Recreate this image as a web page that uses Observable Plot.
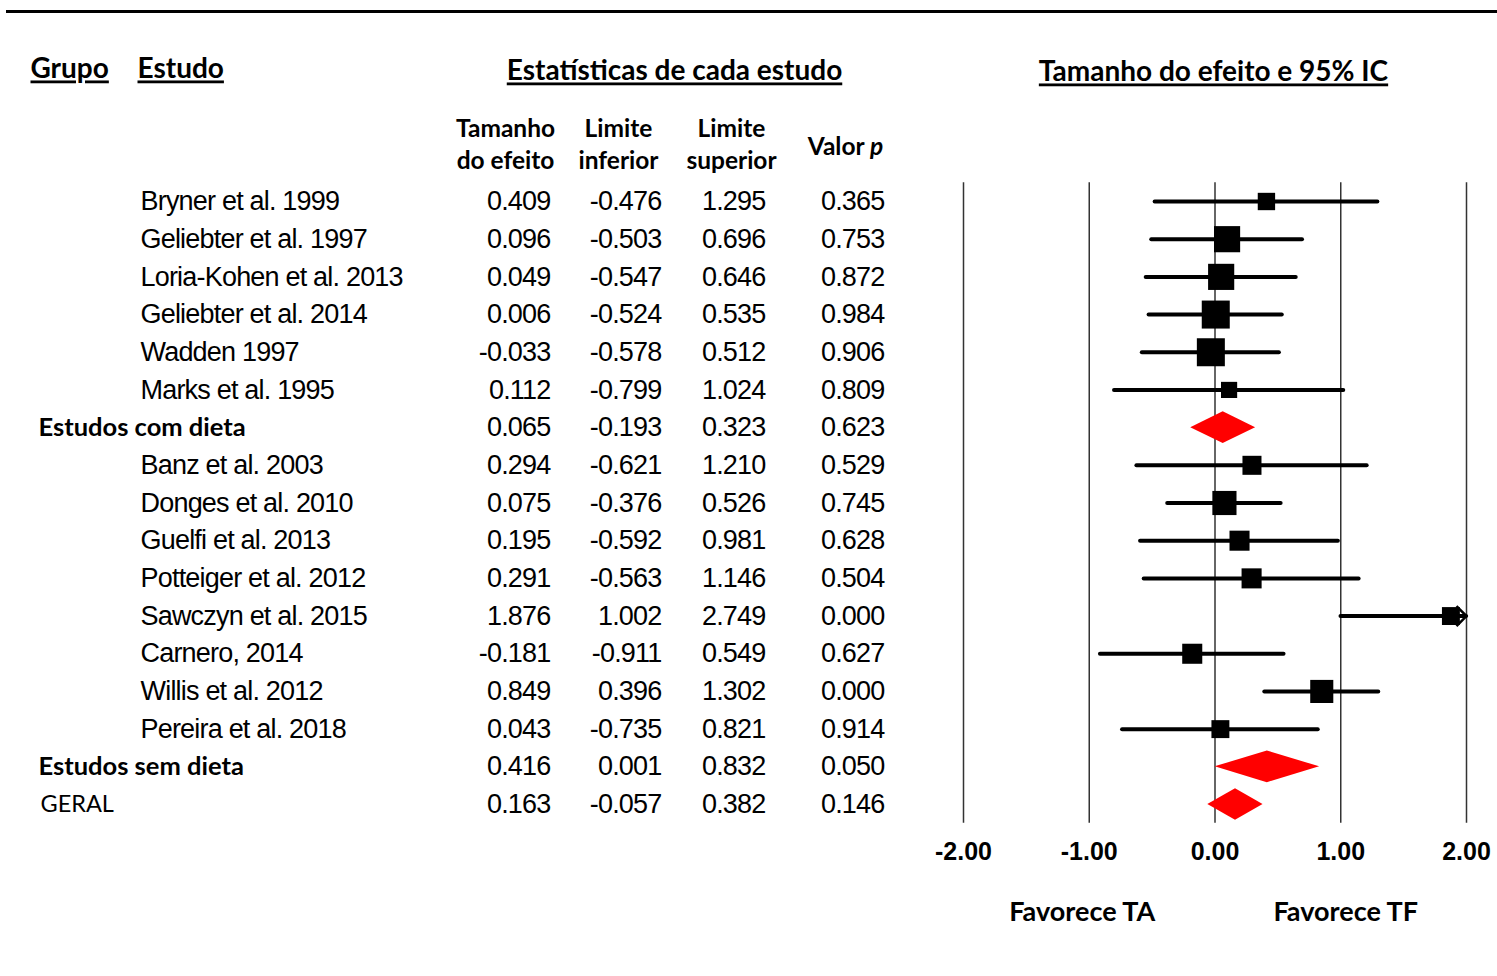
<!DOCTYPE html>
<html><head><meta charset="utf-8">
<script src="https://cdn.jsdelivr.net/npm/d3@7"></script>
<script src="https://cdn.jsdelivr.net/npm/@observablehq/plot@0.6"></script>
<style>
body{margin:0;background:#fff}
</style></head><body><div id="chart"></div>
<script>
// ---- data ----
const labels = ["Bryner et al. 1999","Geliebter et al. 1997","Loria-Kohen et al. 2013","Geliebter et al. 2014","Wadden 1997","Marks et al. 1995","Estudos com dieta","Banz et al. 2003","Donges et al. 2010","Guelfi et al. 2013","Potteiger et al. 2012","Sawczyn et al. 2015","Carnero, 2014","Willis et al. 2012","Pereira et al. 2018","Estudos sem dieta","GERAL"];
const kinds = ["study","study","study","study","study","study","group","study","study","study","study","study","study","study","study","group","overall"];
const effect = [0.409,0.096,0.049,0.006,-0.033,0.112,0.065,0.294,0.075,0.195,0.291,1.876,-0.181,0.849,0.043,0.416,0.163];
const lower  = [-0.476,-0.503,-0.547,-0.524,-0.578,-0.799,-0.193,-0.621,-0.376,-0.592,-0.563,1.002,-0.911,0.396,-0.735,0.001,-0.057];
const upper  = [1.295,0.696,0.646,0.535,0.512,1.024,0.323,1.210,0.526,0.981,1.146,2.749,0.549,1.302,0.821,0.832,0.382];
const pvalue = [0.365,0.753,0.872,0.984,0.906,0.809,0.623,0.529,0.745,0.628,0.504,0.000,0.627,0.000,0.914,0.050,0.146];
const weight = [3.0,6.8,6.8,7.8,7.8,2.6,null,3.6,5.8,4.0,4.0,3.2,4.0,5.3,3.2,null,null];
const ticks = [-2,-1,0,1,2];
const favorLabels = ["Favorece TA","Favorece TF"];
const favorSide = [-1,1];
const titles = ["Grupo","Estudo","Estatísticas de cada estudo","Tamanho do efeito e 95% IC"];
const colHeads = ["Tamanho\ndo efeito","Limite\ninferior","Limite\nsuperior","Valor p"];

// ---- derived tables ----
const rows = labels.map((label,i)=>({i,label,kind:kinds[i],es:effect[i],lo:lower[i],hi:upper[i],p:pvalue[i],w:weight[i]}));
const studies = rows.filter(d=>d.kind==="study");
const summaries = rows.filter(d=>d.kind!=="study");
const H = 0.42; // diamond half-height in row units
const diamond = summaries.flatMap(d=>[
  {i:d.i,x:d.lo,y1:d.i,y2:d.i},
  {i:d.i,x:d.es,y1:d.i-H,y2:d.i+H},
  {i:d.i,x:d.hi,y1:d.i,y2:d.i}]);
const clipped = studies.filter(d=>d.hi>2);
const chevron = {draw(ctx,size){const s=Math.sqrt(size)/2; ctx.moveTo(-s,-s); ctx.lineTo(0,0); ctx.lineTo(-s,s);}};

const SANS = "Lato, 'Open Sans', sans-serif";
const ARIAL = "'Liberation Sans', Arial, sans-serif";
const lab = (text, dx, dy, o) => Plot.text([text], {text:d=>d, frameAnchor:"top-left", dx, dy, lineAnchor:"middle", fill:"black", ...o});
const head = {fontFamily:SANS, fontWeight:"bold", fontSize:28};
const chead = {fontFamily:SANS, fontWeight:"bold", fontSize:24.5, textAnchor:"middle", lineHeight:1.3};
const num = (key, dx, fmt) => Plot.text(rows, {y:"i", text:d=>fmt(d[key]), frameAnchor:"left", dx, textAnchor:"end", fontFamily:ARIAL, fontSize:27, fill:"black"});
const f3 = v=>v.toFixed(3);

const plot = Plot.plot({
  width:1497, height:976,
  marginTop:11, marginLeft:7, marginRight:0, marginBottom:125,
  x:{domain:[-2,2], range:[963,1466], clamp:true, axis:null},
  y:{domain:[0,labels.length-1], range:[201,804], axis:null},
  r:{type:"sqrt", domain:[0,7.8], range:[0,15.8]},
  marks:[
    Plot.frame({anchor:"top", stroke:"black", strokeWidth:3}),
    // headers
    lab(titles[0], 23, 58, {...head, textAnchor:"start"}),
    lab(titles[1], 130, 58, {...head, textAnchor:"start"}),
    lab(titles[2], 667, 60, {...head, textAnchor:"middle"}),
    lab(titles[3], 1206, 61, {...head, textAnchor:"middle"}),
    lab(colHeads[0], 498, 131, chead),
    lab(colHeads[1], 611, 131, chead),
    lab(colHeads[2], 724, 131, chead),
    lab(colHeads[3], 838, 133, chead),
    // table
    Plot.text(studies, {y:"i", text:"label", frameAnchor:"left", dx:133, textAnchor:"start", fontFamily:ARIAL, fontSize:27, fill:"black"}),
    Plot.text(rows.filter(d=>d.kind==="group"), {y:"i", text:"label", frameAnchor:"left", dx:31, textAnchor:"start", fontFamily:SANS, fontWeight:"bold", fontSize:25.5, fill:"black"}),
    Plot.text(rows.filter(d=>d.kind==="overall"), {y:"i", text:"label", frameAnchor:"left", dx:33, textAnchor:"start", fontFamily:SANS, fontSize:23.5, fill:"black"}),
    num("es", 543, f3), num("lo", 654, f3), num("hi", 758, f3), num("p", 877, f3),
    // forest
    Plot.ruleX(ticks, {x:d=>d, y1:()=>-0.5, y2:()=>labels.length-0.5, stroke:"#333", strokeWidth:1.5}),
    Plot.ruleY(studies, {y:"i", x1:"lo", x2:"hi", stroke:"black", strokeWidth:4, strokeLinecap:"round"}),
    Plot.dot(studies, {x:"es", y:"i", r:"w", symbol:"square", fill:"black"}),
    Plot.dot(clipped, {x:"hi", y:"i", r:11.3, symbol:chevron, fill:"none", stroke:"black", strokeWidth:2.5}),
    Plot.areaY(diamond, {x:"x", y1:"y1", y2:"y2", z:"i", fill:"#ff0000"}),
    // axis labels
    Plot.text(ticks, {x:d=>d, text:d=>d.toFixed(2), frameAnchor:"bottom", lineAnchor:"middle", fontFamily:ARIAL, fontWeight:"bold", fontSize:25, fill:"black"}),
    Plot.text(favorLabels.slice(0,1), {x:()=>favorSide[0], text:d=>d, frameAnchor:"bottom", dy:61, dx:-7, lineAnchor:"middle", fontFamily:SANS, fontWeight:"bold", fontSize:27, fill:"black"}),
    Plot.text(favorLabels.slice(1), {x:()=>favorSide[1], text:d=>d, frameAnchor:"bottom", dy:61, dx:5, lineAnchor:"middle", fontFamily:SANS, fontWeight:"bold", fontSize:27, fill:"black"})
  ]
});
document.getElementById("chart").appendChild(plot);
// post-render text styling
const svg = d3.select(plot);
svg.selectAll("g").filter(function(){
  return (this.getAttribute("font-family")||"").includes("Liberation") && this.getAttribute("font-weight")!=="bold";
}).attr("letter-spacing","-0.8px");
svg.selectAll("text").each(function(){
  const t = d3.select(this), s = this.textContent;
  if (titles.includes(s)) t.style("text-decoration","underline").style("text-decoration-thickness","2px").style("text-underline-offset","4px");
  if (s==="Valor p") { t.text("Valor "); t.append("tspan").style("font-style","italic").text("p"); }
});
</script></body></html>
